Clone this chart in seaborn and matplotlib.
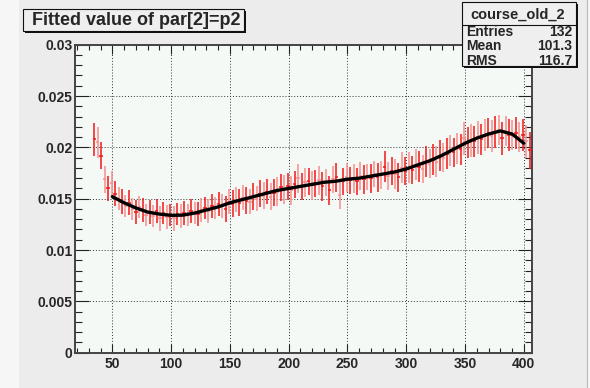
import numpy as np
import matplotlib
matplotlib.use("Agg")
import matplotlib.pyplot as plt
import seaborn as sns
from matplotlib.ticker import MultipleLocator, FuncFormatter
from matplotlib.patches import Rectangle

# ROOT histogram binning: 132 bins, first 5 bins empty
n_bins = 132
x_lo, x_hi = 18.5, 406.5
first_filled = 5

p2_values = [
    0.0208, 0.0205, 0.0192, 0.0169, 0.0160, 0.0165, 0.0155, 0.0150, 0.0147, 0.0143,
    0.0146, 0.0140, 0.0137, 0.0142, 0.0139, 0.0134, 0.0137, 0.0133, 0.0138, 0.0131,
    0.0136, 0.0132, 0.0134, 0.0131, 0.0135, 0.0133, 0.0136, 0.0134, 0.0138, 0.0136,
    0.0135, 0.0139, 0.0141, 0.0138, 0.0143, 0.0141, 0.0145, 0.0143, 0.0140, 0.0147,
    0.0145, 0.0149, 0.0146, 0.0151, 0.0148, 0.0147, 0.0152, 0.0150, 0.0155, 0.0153,
    0.0157, 0.0152, 0.0156, 0.0157, 0.0161, 0.0159, 0.0162, 0.0158, 0.0164, 0.0170,
    0.0162, 0.0166, 0.0167, 0.0163, 0.0165, 0.0168, 0.0162, 0.0166, 0.0158, 0.0169,
    0.0171, 0.0154, 0.0167, 0.0171, 0.0168, 0.0170, 0.0167, 0.0172, 0.0169, 0.0171,
    0.0170, 0.0174, 0.0171, 0.0173, 0.0181, 0.0172, 0.0177, 0.0174, 0.0171, 0.0180,
    0.0177, 0.0180, 0.0178, 0.0183, 0.0181, 0.0179, 0.0186, 0.0184, 0.0188, 0.0186,
    0.0192, 0.0190, 0.0194, 0.0197, 0.0195, 0.0199, 0.0198, 0.0209, 0.0205, 0.0207,
    0.0206, 0.0210, 0.0208, 0.0212, 0.0214, 0.0211, 0.0215, 0.0217, 0.0209, 0.0216,
    0.0212, 0.0212, 0.0214, 0.0210, 0.0212, 0.0206, 0.0197,
]

p2_errors = [
    0.0016, 0.0015, 0.0013, 0.0013, 0.0012, 0.0012, 0.0012, 0.0011, 0.0012, 0.0011,
    0.0012, 0.0011, 0.0012, 0.0011, 0.0012, 0.0011, 0.0012, 0.0011, 0.0012, 0.0012,
    0.0011, 0.0012, 0.0011, 0.0012, 0.0011, 0.0012, 0.0012, 0.0011, 0.0012, 0.0011,
    0.0012, 0.0012, 0.0011, 0.0012, 0.0012, 0.0011, 0.0012, 0.0012, 0.0013, 0.0012,
    0.0013, 0.0012, 0.0013, 0.0012, 0.0013, 0.0012, 0.0013, 0.0012, 0.0013, 0.0013,
    0.0012, 0.0013, 0.0013, 0.0014, 0.0013, 0.0014, 0.0013, 0.0014, 0.0013, 0.0014,
    0.0013, 0.0014, 0.0013, 0.0014, 0.0013, 0.0014, 0.0014, 0.0013, 0.0014, 0.0013,
    0.0014, 0.0014, 0.0013, 0.0014, 0.0013, 0.0014, 0.0013, 0.0014, 0.0014, 0.0013,
    0.0014, 0.0013, 0.0014, 0.0014, 0.0015, 0.0014, 0.0014, 0.0015, 0.0014, 0.0015,
    0.0014, 0.0015, 0.0014, 0.0015, 0.0015, 0.0014, 0.0015, 0.0014, 0.0015, 0.0015,
    0.0015, 0.0014, 0.0015, 0.0015, 0.0014, 0.0015, 0.0015, 0.0016, 0.0015, 0.0016,
    0.0015, 0.0016, 0.0015, 0.0016, 0.0015, 0.0016, 0.0016, 0.0015, 0.0016, 0.0015,
    0.0016, 0.0015, 0.0016, 0.0015, 0.0016, 0.0016, 0.0018,
]

fit_x = [50, 60, 70, 80, 90, 100, 110, 120, 130, 140, 150, 160, 170, 180, 190, 200,
         210, 220, 230, 240, 250, 260, 270, 280, 290, 300, 310, 320, 330, 340, 350,
         360, 370, 380, 390, 400]
fit_y = [0.0152, 0.0146, 0.0141, 0.0137, 0.0135, 0.01338, 0.0134, 0.0136, 0.0139,
         0.0142, 0.0146, 0.0149, 0.0152, 0.0155, 0.0158, 0.0160, 0.0162, 0.0164,
         0.0166, 0.0167, 0.0169, 0.0170, 0.0172, 0.0174, 0.0176, 0.0179, 0.0183,
         0.0187, 0.0192, 0.0198, 0.0204, 0.0209, 0.0213, 0.0216, 0.0213, 0.0204]

title_text = "Fitted value of par[2]=p2"
stats_name = "course_old_2"
stats_rows = [("Entries", "132"), ("Mean", "101.3"), ("RMS", "116.7")]

sns.set_style("ticks")
plt.rcParams["font.family"] = ["Liberation Sans", "DejaVu Sans"]
plt.rcParams["font.weight"] = "bold"

W, H = 590, 388
fig = plt.figure(figsize=(W / 100, H / 100), dpi=100)
fig.patch.set_facecolor("#ececec")
# lighter canvas edges left and right, thin darker line at the right border
fig.patches.append(Rectangle((0, 0), 19 / W, 1, transform=fig.transFigure,
                             facecolor="#f6f6f6", edgecolor="none", zorder=0))
fig.patches.append(Rectangle((587.5 / W, 0), 3 / W, 1, transform=fig.transFigure,
                             facecolor="#f6f6f6", edgecolor="none", zorder=0))
fig.lines.append(plt.Line2D([587 / W, 587 / W], [0, 1], transform=fig.transFigure,
                            color="#b8b8b8", linewidth=0.8, zorder=1))

left, right, top, bottom = 75.3, 531.5, 44.7, 352.7
ax = fig.add_axes([left / W, 1 - bottom / H, (right - left) / W, (bottom - top) / H])
ax.set_facecolor("#f5f9f5")

edges = np.linspace(x_lo, x_hi, n_bins + 1)
centers = (edges[:-1] + edges[1:]) / 2
xs = centers[first_filled:first_filled + len(p2_values)]
half_w = (x_hi - x_lo) / n_bins / 2
yv = np.array(p2_values)
ye = np.array(p2_errors)

# alternate bright / pale red like the rendered reference
for sl, col in [(slice(1, None, 2), "#f58f8f"), (slice(0, None, 2), "#f01818")]:
    ax.errorbar(xs[sl], yv[sl], yerr=ye[sl], xerr=half_w, fmt="none",
                ecolor=col, elinewidth=1.1, capsize=0, zorder=3)

sns.lineplot(x=fit_x, y=fit_y, ax=ax, color="black", linewidth=2.4, zorder=4)

ax.set_xlim(x_lo, x_hi)
ax.set_ylim(0, 0.03)
ax.xaxis.set_major_locator(MultipleLocator(50))
ax.xaxis.set_minor_locator(MultipleLocator(10))
ax.yaxis.set_major_locator(MultipleLocator(0.005))
ax.yaxis.set_minor_locator(MultipleLocator(0.001))
ax.yaxis.set_major_formatter(FuncFormatter(lambda v, p: "%g" % round(v, 4)))
ax.xaxis.set_major_formatter(FuncFormatter(lambda v, p: "%g" % v))

ax.tick_params(axis="both", which="both", direction="in", top=True, right=True,
               color="#222222", width=0.8, labelsize=10)
ax.tick_params(axis="y", which="major", length=10, pad=2)
ax.tick_params(axis="y", which="minor", length=5)
ax.tick_params(axis="x", which="major", length=6.5, pad=3)
ax.tick_params(axis="x", which="minor", length=3.6)
for lab in ax.get_xticklabels() + ax.get_yticklabels():
    lab.set_fontweight("bold")

ax.set_axisbelow(True)
ax.grid(True, which="major", linestyle=(0, (1, 2)), color="#333333", linewidth=0.7)
for s in ax.spines.values():
    s.set_color("#444444")
    s.set_linewidth(1.4)
ax.set_xlabel("")
ax.set_ylabel("")


def box(x0, y0, x1, y1):
    # ROOT-like pave with drop shadow; pixel coords from top-left
    fig.patches.append(Rectangle(((x0 + 2) / W, 1 - (y1 + 2) / H), (x1 - x0) / W, (y1 - y0) / H,
                                 transform=fig.transFigure, facecolor="#111111",
                                 edgecolor="none", zorder=5))
    fig.patches.append(Rectangle((x0 / W, 1 - y1 / H), (x1 - x0) / W, (y1 - y0) / H,
                                 transform=fig.transFigure, facecolor="#efefef",
                                 edgecolor="#111111", linewidth=0.8, zorder=6))


box(23, 9, 244, 31)
fig.text(32 / W, 1 - 20.5 / H, title_text, fontsize=13, fontweight="bold",
         ha="left", va="center", zorder=7)

box(462, 2, 576, 66)
fig.text(518 / W, 1 - 14.5 / H, stats_name, fontsize=10.5, fontweight="bold",
         ha="center", va="center", zorder=7)
fig.lines.append(plt.Line2D([462 / W, 576 / W], [1 - 24.5 / H, 1 - 24.5 / H],
                            transform=fig.transFigure, color="#111111", linewidth=0.8, zorder=7))
for (name, val), yy in zip(stats_rows, [31.5, 46.5, 61]):
    fig.text(466 / W, 1 - yy / H, name, fontsize=10, fontweight="bold",
             ha="left", va="center", zorder=7)
    fig.text(572.5 / W, 1 - yy / H, val, fontsize=10, fontweight="bold",
             ha="right", va="center", zorder=7)

fig.savefig("out.png", dpi=100, facecolor=fig.get_facecolor())
